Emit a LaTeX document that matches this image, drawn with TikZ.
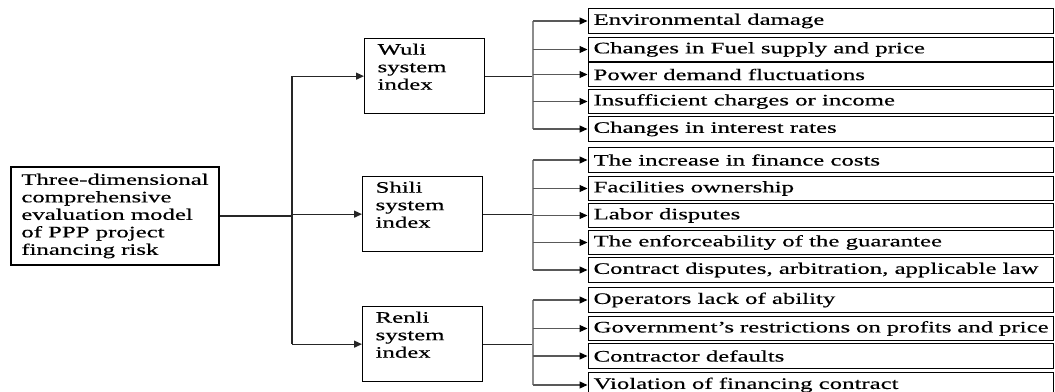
\documentclass[tikz,border=0pt]{standalone}
\usepackage{fontspec}
\newfontfamily\dfont[FakeStretch=1.55,FakeBold=0.5]{Liberation Serif}
\usetikzlibrary{arrows.meta}
\begin{document}
\begin{tikzpicture}[x=1pt,y=-1pt,
  box/.style={draw=black, line width=1.2pt, font=\dfont\fontsize{16pt}{17.5pt}\selectfont},
  rootbox/.style={box, align=left, minimum width=208pt, minimum height=98pt, inner sep=0pt},
  midbox/.style={box, align=left, text width=94pt, inner xsep=13pt, inner ysep=5pt, anchor=north west},
  leaf/.style={box, line width=1.2pt, anchor=west, inner xsep=5pt, inner ysep=0pt, minimum height=24.5pt,
    execute at begin node={\hbox to 455pt\bgroup}, execute at end node={\hfil\egroup}},
  conn/.style={draw=black!85, line width=1.3pt},
  bar/.style={draw=black!45, line width=2.6pt},
  arr/.style={-{Triangle[length=8pt,width=7pt]}},
  leafarr/.style={draw=black!65, line width=1.1pt, -{Triangle[length=8pt,width=7pt,color=black]}, shorten >=0.5pt}
]
\useasboundingbox (0,0) rectangle (1055,391);

\node[rootbox] (root) at (115,216) {Three-dimensional\\comprehensive\\evaluation model\\of PPP project\\financing risk};

\node[midbox] (wuli)  at (364,38)  {Wuli\\system\\index\rule[-19pt]{0pt}{19pt}};
\node[midbox] (shili) at (362,176) {Shili\\system\\index\rule[-19pt]{0pt}{19pt}};
\node[midbox] (renli) at (362,306) {Renli\\system\\index\rule[-19pt]{0pt}{19pt}};

\node[leaf] (w1) at (588,21)    {Environmental damage};
\node[leaf] (w2) at (588,49.5)  {Changes in Fuel supply and price};
\node[leaf] (w3) at (588,74.5)  {Power demand fluctuations};
\node[leaf] (w4) at (588,101.5) {Insufficient charges or income};
\node[leaf] (w5) at (588,129)   {Changes in interest rates};

\node[leaf] (s1) at (588,160)   {The increase in finance costs};
\node[leaf] (s2) at (588,188.5) {Facilities ownership};
\node[leaf] (s3) at (588,215.5) {Labor disputes};
\node[leaf] (s4) at (588,242.5) {The enforceability of the guarantee};
\node[leaf] (s5) at (588,270)   {Contract disputes, arbitration, applicable law};

\node[leaf] (r1) at (588,300)   {Operators lack of ability};
\node[leaf] (r2) at (588,328.5) {Government’s restrictions on profits and price};
\node[leaf] (r3) at (588,356)   {Contractor defaults};
\node[leaf] (r4) at (588,385)   {Violation of financing contract};

\coordinate (T) at (292,0);
\coordinate (B) at (533,0);

% trunk
\draw[conn] (root.east) -- (root.east -| T);
\draw[conn] (wuli.west -| T) -- (renli.west -| T);
\draw[conn,arr] (wuli.west -| T) -- (wuli.west);
\draw[conn,arr] (shili.west -| T) -- (shili.west);
\draw[conn,arr] (renli.west -| T) -- (renli.west);

% Wuli leaves
\draw[conn] (wuli.east) -- (wuli.east -| B);
\draw[bar] (w1.west -| B) -- (w5.west -| B);
\foreach \i in {1,...,5} \draw[leafarr] (w\i.west -| B) -- (w\i.west);

% Shili leaves
\draw[conn] (shili.east) -- (shili.east -| B);
\draw[bar] (s1.west -| B) -- (s5.west -| B);
\foreach \i in {1,...,5} \draw[leafarr] (s\i.west -| B) -- (s\i.west);

% Renli leaves
\draw[conn] (renli.east) -- (renli.east -| B);
\draw[bar] (r1.west -| B) -- (r4.west -| B);
\foreach \i in {1,...,4} \draw[leafarr] (r\i.west -| B) -- (r\i.west);
\end{tikzpicture}
\end{document}
